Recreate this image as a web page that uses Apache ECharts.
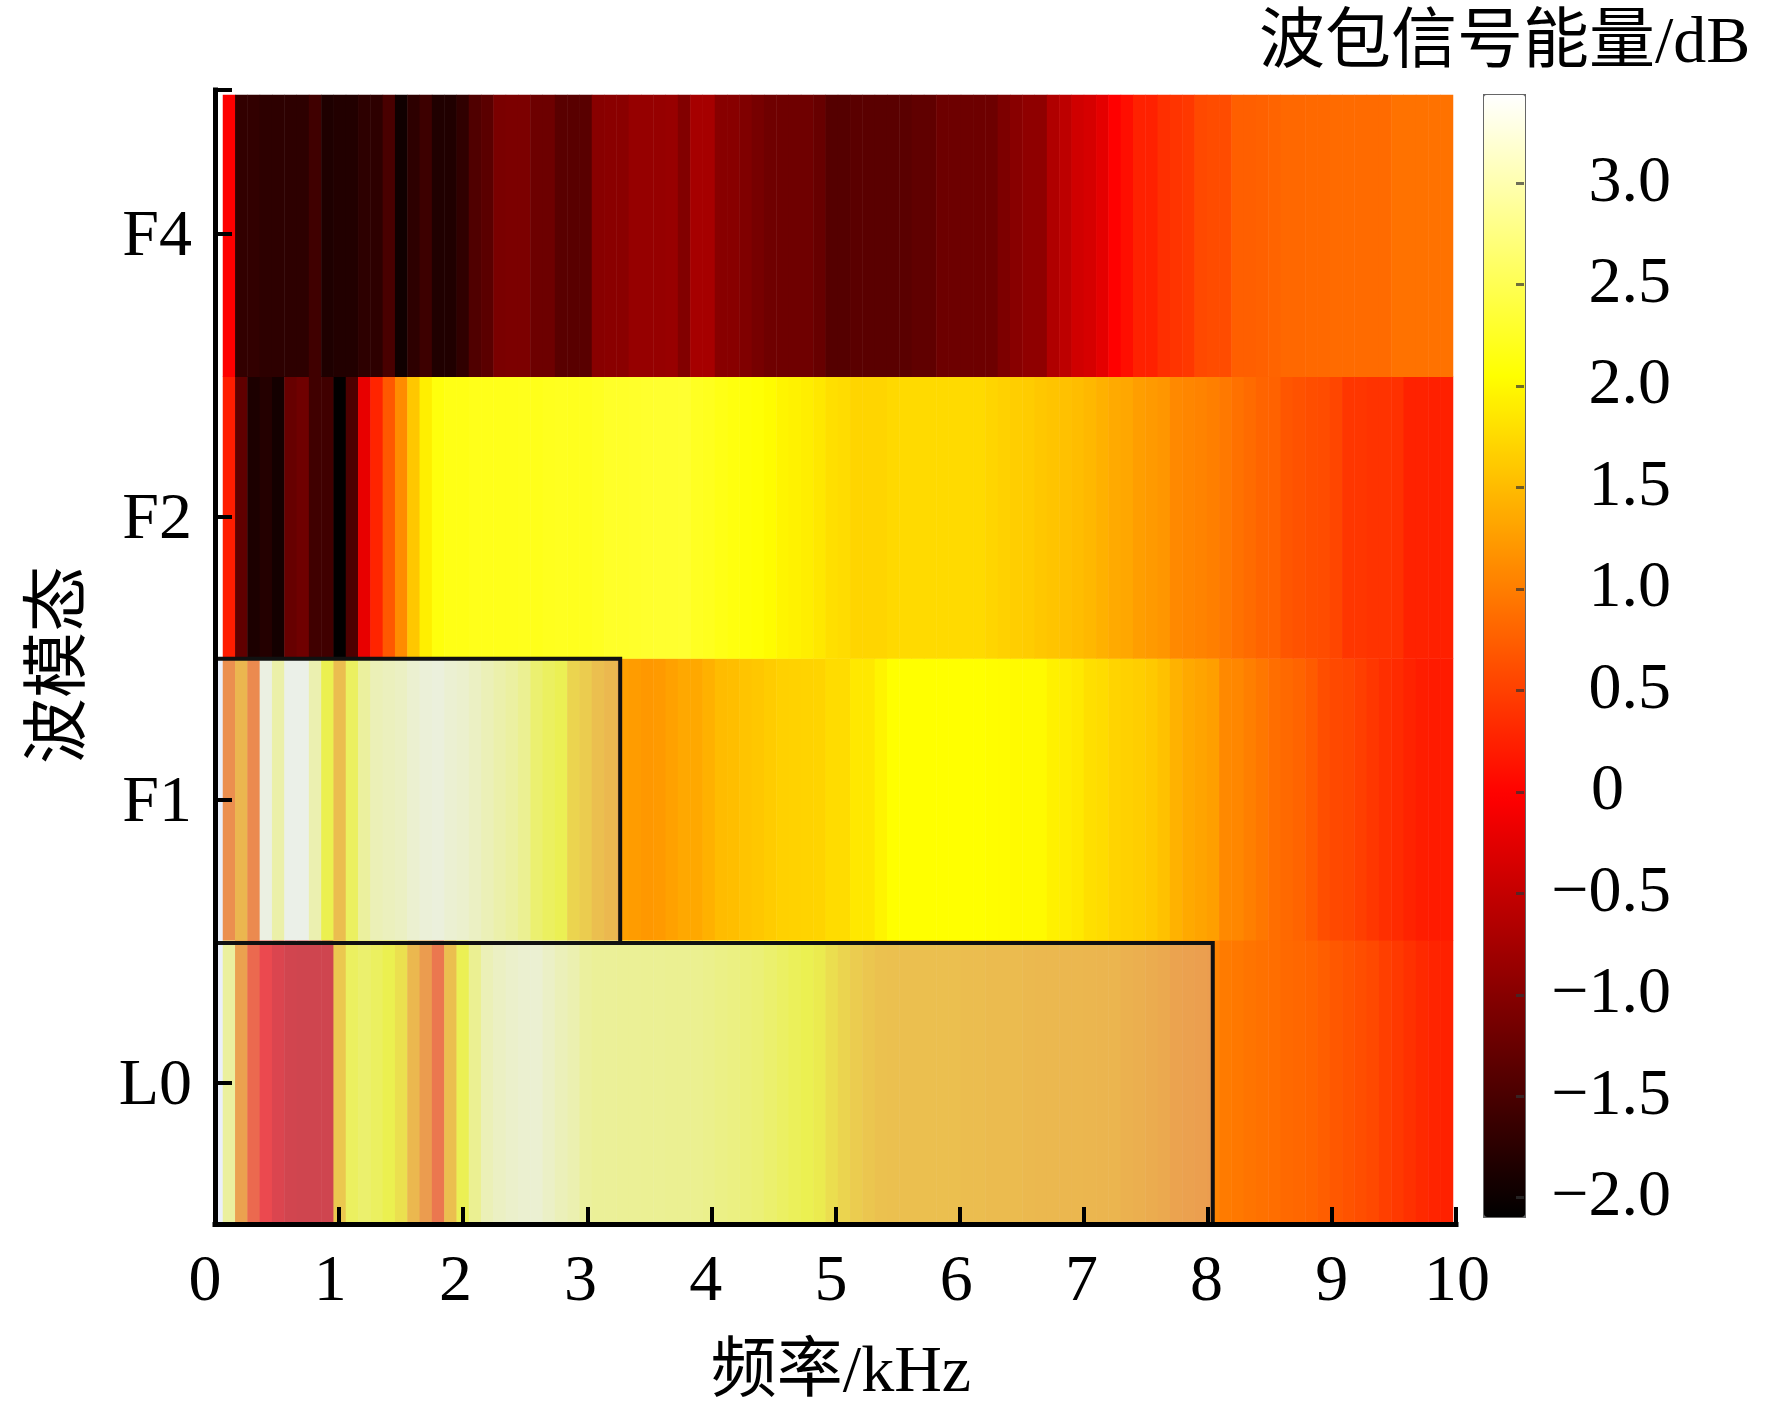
<!DOCTYPE html>
<html>
<head>
<meta charset="utf-8">
<style>html,body{margin:0;padding:0;background:#fff}#c{width:1772px;height:1410px}</style>
<script src="https://cdn.jsdelivr.net/npm/echarts@6/dist/echarts.min.js"></script>
</head>
<body>
<div id="c"></div>
<script>
const modes = ['L0','F1','F2','F4'];
const rowF4 = [
-0.03,-1.68,-1.68,-1.72,-1.72,-1.72,-1.72,-1.57,-1.85,-1.81,
-1.81,-1.72,-1.72,-1.50,-1.96,-1.72,-1.59,-1.83,-1.83,-1.70,
-1.44,-1.36,-1.10,-1.08,-1.08,-1.20,-1.20,-1.37,-1.37,-1.37,
-0.98,-0.97,-0.97,-0.87,-0.87,-0.87,-0.85,-1.03,-0.74,-0.74,
-0.98,-0.98,-1.05,-1.12,-1.19,-1.19,-1.19,-1.19,-1.25,-1.40,
-1.40,-1.36,-1.36,-1.36,-1.36,-1.36,-1.31,-1.31,-1.20,-1.20,
-1.20,-1.20,-1.20,-1.07,-0.98,-0.93,-0.93,-0.66,-0.55,-0.40,
-0.35,-0.23,-0.02,0.10,0.25,0.25,0.37,0.41,0.44,0.58,
0.60,0.60,0.76,0.76,0.77,0.80,0.83,0.83,0.84,0.84,
0.85,0.85,0.85,0.85,0.85,0.91,0.91,0.91,0.91,0.91];
const rowF2 = [
0.22,-1.31,-1.86,-1.80,-1.93,-1.25,-1.19,-1.57,-1.57,-2.08,
-1.46,-0.20,0.28,0.70,1.12,1.60,1.93,2.12,2.17,2.17,
2.20,2.20,2.20,2.20,2.21,2.20,2.22,2.23,2.22,2.22,
2.24,2.28,2.28,2.29,2.30,2.31,2.31,2.32,2.24,2.22,
2.17,2.14,2.10,2.08,2.03,1.98,1.95,1.92,1.87,1.80,
1.77,1.72,1.72,1.72,1.75,1.76,1.76,1.76,1.76,1.76,
1.76,1.76,1.72,1.68,1.66,1.64,1.60,1.58,1.55,1.52,
1.48,1.42,1.37,1.34,1.27,1.24,1.20,1.10,1.07,1.05,
1.02,0.97,0.90,0.85,0.80,0.78,0.68,0.65,0.62,0.60,
0.55,0.42,0.42,0.40,0.40,0.38,0.26,0.26,0.24,0.24];
const rowF1 = [
0.89,1.36,0.82,3.25,2.78,3.30,3.30,2.84,2.07,1.45,
2.20,2.70,2.90,2.95,3.00,3.10,3.16,3.20,3.12,3.08,
3.00,2.90,2.80,2.72,2.60,2.33,2.20,2.10,1.72,1.62,
1.47,1.38,1.28,1.25,1.22,1.24,1.29,1.35,1.35,1.42,
1.51,1.53,1.58,1.60,1.64,1.68,1.69,1.70,1.71,1.77,
1.77,1.87,1.87,1.97,2.06,2.06,2.06,2.06,2.06,2.06,
2.06,2.06,2.04,2.03,2.02,2.02,2.02,1.94,1.92,1.88,
1.80,1.77,1.71,1.68,1.66,1.62,1.55,1.43,1.36,1.32,
1.28,1.10,1.08,1.02,0.95,0.88,0.84,0.80,0.72,0.62,
0.58,0.55,0.50,0.43,0.37,0.33,0.27,0.22,0.20,0.20];
const rowL0 = [
2.70,1.10,0.43,0.04,-0.20,-0.33,-0.35,-0.35,-0.35,1.57,
2.20,2.30,2.20,2.07,1.86,1.38,1.04,0.59,1.46,2.10,
2.60,2.90,3.00,3.06,3.10,3.12,3.02,2.92,2.84,2.70,
2.65,2.65,2.63,2.63,2.62,2.62,2.60,2.60,2.58,2.55,
2.50,2.47,2.42,2.38,2.30,2.22,2.15,2.08,2.00,1.85,
1.72,1.62,1.55,1.50,1.48,1.46,1.46,1.46,1.46,1.46,
1.44,1.44,1.42,1.42,1.42,1.40,1.38,1.38,1.37,1.37,
1.36,1.35,1.35,1.30,1.27,1.24,1.20,1.12,1.10,1.08,
1.06,0.98,0.96,0.93,0.90,0.88,0.84,0.82,0.80,0.75,
0.70,0.66,0.62,0.58,0.50,0.45,0.38,0.32,0.28,0.25];
const rows = [rowL0, rowF1, rowF2, rowF4];
const freqLabels = rowF4.map((_, i) => String(i + 1));
const colorbarTicks = [-2,-1.5,-1,-0.5,0,0.5,1,1.5,2,2.5,3];
const colorbarText = ['−2.0','−1.5','−1.0','−0.5','0','0.5','1.0','1.5','2.0','2.5','3.0'];
const valueMin = -2.09, valueMax = 3.44;
const hotColors = ['#000000','#550000','#aa0000','#ff0000','#ff5500','#ffaa00','#ffff00','#ffff80','#ffffff'];
const modeTicks = [0.5,1.5,2.5,3.5];
const yTop = 4.007;
const boxF1 = [0,0.993,3.265,1.997];
const boxL0 = [0,0,8.04,0.993];

const heat = [];
rows.forEach((r, y) => r.forEach((v, x) => heat.push([x, y, v])));

const serif = '"Liberation Serif","Noto Sans CJK SC",serif';
const fs = 66;

const chart = echarts.init(document.getElementById('c'), null, {renderer:'canvas'});
chart.setOption({
  animation:false,
  backgroundColor:'#fff',
  title:{text:'波包信号能量/dB', left:1259, top:12, padding:0,
    textStyle:{fontFamily:serif, fontSize:fs, fontWeight:'normal', color:'#000'}},
  grid:[
    {left:223, top:95, width:1230, height:1127, outerBoundsMode:'none'},
    {left:215, top:90, width:1241, height:1134, outerBoundsMode:'none'},
    {left:205, top:90, width:1252, height:1134, outerBoundsMode:'none'},
    {left:1483, top:94, width:41, height:1122, outerBoundsMode:'none'},
    {left:215, top:94, width:1241, height:1134, outerBoundsMode:'none'}
  ],
  xAxis:[
    {type:'category', gridIndex:0, data:freqLabels, show:false},
    {type:'value', gridIndex:1, min:0, max:10, interval:1, z:6, splitLine:{show:false},
      axisLine:{show:true, onZero:false, lineStyle:{color:'#000', width:5, cap:'square'}},
      axisTick:{show:true, inside:true, length:17, lineStyle:{color:'#000', width:4}},
      axisLabel:{show:false}},
    {type:'value', gridIndex:2, min:0, max:10, interval:1, z:6, splitLine:{show:false},
      axisLine:{show:false}, axisTick:{show:false},
      axisLabel:{show:true, margin:26, fontFamily:serif, fontSize:fs, color:'#000', hideOverlap:false},
      name:'频率/kHz', nameLocation:'middle', nameGap:117,
      nameTextStyle:{fontFamily:serif, fontSize:fs, color:'#000', padding:[0,0,0,20]}},
    {type:'value', gridIndex:3, min:0, max:1, show:false},
    {type:'value', gridIndex:4, min:0, max:10, show:false}
  ],
  yAxis:[
    {type:'category', gridIndex:0, data:modes, show:false},
    {type:'value', gridIndex:1, min:0, max:yTop, z:6, splitLine:{show:false},
      axisLine:{show:true, onZero:false, lineStyle:{color:'#000', width:5, cap:'square'}},
      axisTick:{show:true, inside:true, length:17, lineStyle:{color:'#000', width:4},
        customValues:modeTicks.concat([yTop])},
      axisLabel:{show:false}},
    {type:'value', gridIndex:2, min:0, max:1, show:false},
    {type:'value', gridIndex:3, position:'right', min:valueMin, max:valueMax, z:8, splitLine:{show:false},
      axisLine:{show:false, onZero:false},
      axisTick:{show:true, inside:true, length:8, customValues:colorbarTicks,
        lineStyle:{color:'rgba(50,50,50,0.7)', width:3}},
      axisLabel:{show:true, inside:false, margin:147, align:'right', fontFamily:serif, fontSize:fs, color:'#000',
        customValues:colorbarTicks,
        formatter:v => {
          const t = colorbarText[colorbarTicks.indexOf(v)];
          return t === '0' ? '{z|0}' : t;
        },
        rich:{z:{width:80, align:'left', fontFamily:serif, fontSize:fs, color:'#000'}}}},
    {type:'value', gridIndex:4, min:0, max:yTop, z:6, splitLine:{show:false},
      axisLine:{show:false, onZero:false}, axisTick:{show:false},
      axisLabel:{show:true, margin:23, fontFamily:serif, fontSize:fs, color:'#000',
        customValues:modeTicks, formatter:v => modes[Math.floor(v)]},
      name:'波模态', nameLocation:'middle', nameGap:120, nameRotate:90,
      nameTextStyle:{fontFamily:serif, fontSize:fs, color:'#000', padding:[0,8,0,0]}}
  ],
  visualMap:{
    type:'continuous', seriesIndex:0, min:valueMin, max:valueMax, show:true, calculable:false,
    left:1483, top:94, itemWidth:41, itemHeight:1122, padding:0, text:null, showLabel:false,
    borderColor:'#666', borderWidth:2, z:3,
    inRange:{color:hotColors}
  },
  series:[
    {type:'heatmap', name:'能量', xAxisIndex:0, yAxisIndex:0, data:heat, progressive:0, z:2,
      itemStyle:{borderWidth:0}, emphasis:{disabled:true}},
    {type:'custom', name:'区域', xAxisIndex:1, yAxisIndex:1, data:[boxF1, boxL0], z:4, silent:true, clip:false,
      encode:{x:[0,2], y:[1,3]},
      renderItem:(params, api) => {
        const a = api.coord([api.value(0), api.value(1)]);
        const b = api.coord([api.value(2), api.value(3)]);
        return {type:'rect', shape:{x:a[0], y:b[1], width:b[0]-a[0], height:a[1]-b[1]},
          style:{fill:'rgba(194,209,240,0.33)', stroke:'#111', lineWidth:4}};
      }}
  ]
});
</script>
</body>
</html>
